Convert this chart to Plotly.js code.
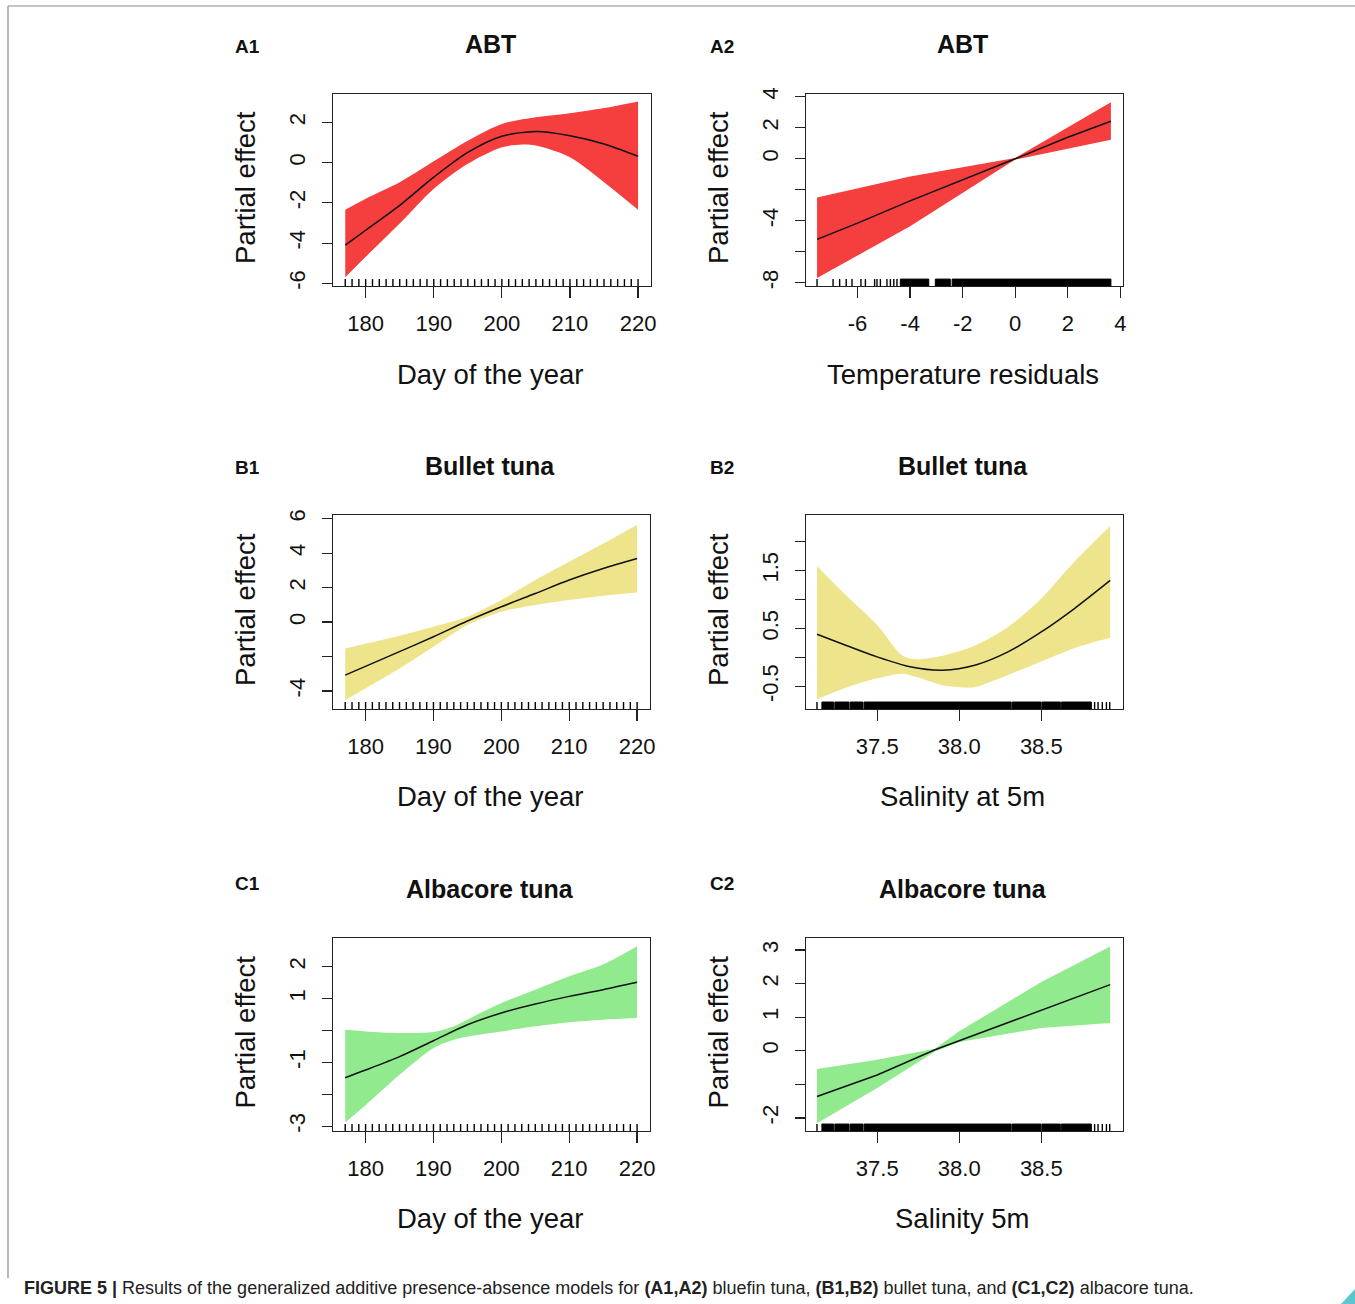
<!DOCTYPE html>
<html><head><meta charset="utf-8">
<script src="https://cdn.plot.ly/plotly-3.0.1.min.js"></script>
<style>html,body{margin:0;padding:0;background:#fff}#chart{width:1355px;height:1304px}</style>
</head><body><div id="chart"></div>
<script>
// ---------------- DATA ----------------
const titles = ['ABT','ABT','Bullet tuna','Bullet tuna','Albacore tuna','Albacore tuna'];
const panelLabels = ['A1','A2','B1','B2','C1','C2'];
const xTitles = ['Day of the year','Temperature residuals','Day of the year','Salinity at 5m','Day of the year','Salinity 5m'];
const yTitle = 'Partial effect';

// A1: ABT ~ day of year
const a1FitX = [177,180,185,190,195,200,205,210,215,220];
const a1FitY = [-4.10,-3.36,-2.12,-0.72,0.51,1.31,1.55,1.34,0.93,0.32];
const a1UpX  = [177,180,185,190,195,200,205,210,215,220];
const a1UpY  = [-2.34,-1.79,-0.97,0.07,1.09,1.92,2.25,2.45,2.71,3.04];
const a1LoX  = [177,180,185,190,195,200,203,205,210,215,220];
const a1LoY  = [-5.70,-4.68,-3.03,-1.30,-0.06,0.76,0.90,0.85,0.27,-0.97,-2.34];

// A2: ABT ~ temperature residuals
const a2FitX = [-7.54,-6,-4,-2,0,2,3.64];
const a2FitY = [-5.20,-4.15,-2.72,-1.38,0.00,1.39,2.42];
const a2UpX  = [-7.54,-4,0,3.64];
const a2UpY  = [-2.50,-1.14,0.05,3.64];
const a2LoX  = [-7.54,-4,0,3.64];
const a2LoY  = [-7.70,-4.35,-0.05,1.22];

// B1: bullet tuna ~ day of year
const b1FitX = [177,185,190,195,200,205,210,215,220];
const b1FitY = [-3.08,-1.72,-0.85,0.06,0.89,1.66,2.44,3.11,3.69];
const b1UpX  = [177,185,190,195,200,205,210,215,220];
const b1UpY  = [-1.53,-0.79,-0.27,0.31,1.28,2.44,3.50,4.56,5.66];
const b1LoX  = [177,185,190,195,200,205,210,215,220];
const b1LoY  = [-4.52,-2.69,-1.43,-0.17,0.60,0.99,1.28,1.53,1.72];

// B2: bullet tuna ~ salinity at 5m
const b2FitX = [37.133,37.3,37.5,37.7,37.9,38.1,38.3,38.5,38.7,38.92];
const b2FitY = [0.40,0.22,0.01,-0.16,-0.22,-0.13,0.10,0.44,0.84,1.33];
const b2UpX  = [37.133,37.3,37.5,37.65,37.73,37.9,38.1,38.3,38.5,38.7,38.92];
const b2UpY  = [1.58,1.10,0.56,0.04,-0.03,0.03,0.21,0.53,1.02,1.65,2.27];
const b2LoX  = [37.133,37.3,37.5,37.65,37.73,37.9,38.035,38.1,38.3,38.5,38.7,38.92];
const b2LoY  = [-0.72,-0.53,-0.36,-0.28,-0.33,-0.48,-0.52,-0.51,-0.30,-0.07,0.16,0.34];

// C1: albacore ~ day of year
const c1FitX = [177,180,185,190,195,200,205,210,215,220];
const c1FitY = [-1.48,-1.24,-0.82,-0.32,0.18,0.55,0.83,1.07,1.28,1.51];
const c1UpX  = [177,180,185,190,193,195,200,205,210,215,220];
const c1UpY  = [0.02,-0.03,-0.08,-0.05,0.13,0.34,0.86,1.28,1.70,2.07,2.64];
const c1LoX  = [177,180,185,190,193,195,200,205,210,215,220];
const c1LoY  = [-2.88,-2.34,-1.39,-0.55,-0.29,-0.19,-0.03,0.13,0.26,0.34,0.39];

// C2: albacore ~ salinity 5m
const c2FitX = [37.133,37.5,37.852,38.0,38.5,38.92];
const c2FitY = [-1.36,-0.72,0.03,0.30,1.22,1.97];
const c2UpX  = [37.133,37.5,37.852,38.0,38.5,38.92];
const c2UpY  = [-0.54,-0.27,0.06,0.58,2.05,3.11];
const c2LoX  = [37.133,37.5,37.852,38.0,38.5,38.92];
const c2LoY  = [-2.16,-1.11,-0.02,0.26,0.68,0.83];

// Rug (observations)
const rugDays = [177,178,179,180,181,182,183,184,185,186,187,188,189,190,191,192,193,194,195,196,197,198,
                 199,200,201,202,203,204,205,206,207,208,209,210,211,212,213,214,215,216,217,218,219,220];
const rugTempSparse = [-7.54,-6.93,-6.68,-6.43,-6.21,-5.87,-5.70,-5.35,-5.26,-5.13,-4.88,-4.75,-4.62,-4.50];
const rugTempDense  = [[-4.37,-3.29],[-3.04,-2.47],[-2.40,3.64]];
const rugSalSparse  = [37.133,38.825,38.846,38.872,38.897,38.917];
const rugSalDense   = [[37.163,37.235],[37.242,37.328],[37.335,37.413],[37.420,38.316],[38.322,38.498],[38.504,38.616],[38.622,38.805]];

// Axis ranges & ticks
const xRanges = [[175.2,221.9],[-7.96,4.10],[175.2,221.9],[37.066,38.998],[175.2,221.9],[37.066,38.998]];
const yRanges = [[-6.13,3.41],[-8.21,4.18],[-5.05,6.22],[-0.89,2.46],[-3.15,2.90],[-2.39,3.36]];
const dayTicks = [180,190,200,210,220];
const dayTickText = ['180','190','200','210','220'];
const tempTicks = [-6,-4,-2,0,2,4];
const tempTickText = ['-6','-4','-2','0','2','4'];
const salTicks = [37.5,38.0,38.5];
const salTickText = ['37.5','38.0','38.5'];
const yTickVals = [[-6,-4,-2,0,2],[-8,-6,-4,-2,0,2,4],[-4,-2,0,2,4,6],[-0.5,0,0.5,1,1.5,2],[-3,-2,-1,0,1,2],[-2,-1,0,1,2,3]];
const yTickText = [['-6','-4','-2','0','2'],['-8','','-4','','0','2','4'],['-4','','0','2','4','6'],
                   ['-0.5','','0.5','','1.5',''],['-3','','-1','','1','2'],['-2','','0','1','2','3']];

// ---------------- LAYOUT HELPERS ----------------
const W = 1355, H = 1304;
const fx = p => p / W, fy = p => 1 - p / H;
const boxes = [[333,94,651,286],[806,94,1123,286],[333,515,650,709],[806,515,1123,709],[333,938,650,1131],[806,938,1123,1131]];
const colors = ['#f53e3e','#f53e3e','#ede48c','#ede48c','#92ea8e','#92ea8e'];
const fits = [[a1FitX,a1FitY],[a2FitX,a2FitY],[b1FitX,b1FitY],[b2FitX,b2FitY],[c1FitX,c1FitY],[c2FitX,c2FitY]];
const ups  = [[a1UpX,a1UpY],[a2UpX,a2UpY],[b1UpX,b1UpY],[b2UpX,b2UpY],[c1UpX,c1UpY],[c2UpX,c2UpY]];
const los  = [[a1LoX,a1LoY],[a2LoX,a2LoY],[b1LoX,b1LoY],[b2LoX,b2LoY],[c1LoX,c1LoY],[c2LoX,c2LoY]];
const rugs = [[rugDays,[]],[rugTempSparse,rugTempDense],[rugDays,[]],[rugSalSparse,rugSalDense],[rugDays,[]],[rugSalSparse,rugSalDense]];
const xTickSets = [[dayTicks,dayTickText],[tempTicks,tempTickText],[dayTicks,dayTickText],[salTicks,salTickText],[dayTicks,dayTickText],[salTicks,salTickText]];
const smooth = ['spline','linear','spline','spline','spline','linear'];

const FONT = 'Liberation Sans, Arial, Helvetica, sans-serif';
const traces = [];
const layout = {
  width: W, height: H, margin: {l:0,r:0,t:0,b:0},
  paper_bgcolor: '#fff', plot_bgcolor: 'rgba(0,0,0,0)', showlegend: false,
  font: {family: FONT, color: '#111'},
  annotations: [], shapes: []
};
const RUG_H = 0.036;

for (let i = 0; i < 6; i++) {
  const n = i + 1, rn = i + 7;
  const xa = 'x' + n, ya = 'y' + n, ra = 'y' + rn;
  const [l,t,r,b] = boxes[i];
  layout['xaxis' + n] = {
    domain: [fx(l), fx(r)], anchor: ya, range: xRanges[i],
    tickvals: xTickSets[i][0], ticktext: xTickSets[i][1],
    ticks: 'outside', ticklen: 11, tickwidth: 1.2, tickcolor: '#222',
    showline: true, mirror: true, linecolor: '#222', linewidth: 1.3,
    showgrid: false, zeroline: false, ticklabelstandoff: 6,
    tickfont: {size: 22, family: FONT, color: '#111'}
  };
  layout['yaxis' + n] = {
    domain: [fy(b), fy(t)], anchor: xa, range: yRanges[i],
    tickvals: yTickVals[i], ticktext: yTickText[i], tickangle: -90,
    ticks: 'outside', ticklen: 10, tickwidth: 1.2, tickcolor: '#222',
    showline: true, mirror: true, linecolor: '#222', linewidth: 1.3,
    showgrid: false, zeroline: false, ticklabelstandoff: 8,
    tickfont: {size: 22, family: FONT, color: '#111'}
  };
  layout['yaxis' + rn] = {
    domain: [fy(b), fy(t)], anchor: xa, overlaying: ya, range: [0,1],
    visible: false, showgrid: false, zeroline: false, fixedrange: true
  };

  // confidence band: upper edge then lower edge filled to it
  traces.push({x: ups[i][0], y: ups[i][1], xaxis: xa, yaxis: ya, mode: 'lines',
    line: {width: 0, color: colors[i], shape: smooth[i], smoothing: 0.8}, hoverinfo: 'skip'});
  traces.push({x: los[i][0], y: los[i][1], xaxis: xa, yaxis: ya, mode: 'lines', fill: 'tonexty',
    fillcolor: colors[i], line: {width: 0, color: colors[i], shape: smooth[i], smoothing: 0.8}, hoverinfo: 'skip'});
  // fitted smooth
  traces.push({x: fits[i][0], y: fits[i][1], xaxis: xa, yaxis: ya, mode: 'lines',
    line: {color: '#111', width: 1.5, shape: smooth[i], smoothing: 0.8}});

  // rug: single ticks
  const rx = [], ry = [];
  rugs[i][0].forEach(v => { rx.push(v, v, null); ry.push(0, RUG_H, null); });
  traces.push({x: rx, y: ry, xaxis: xa, yaxis: ra, mode: 'lines',
    line: {color: '#000', width: 1.4}, hoverinfo: 'skip'});
  // rug: dense runs of observations
  rugs[i][1].forEach(seg => {
    traces.push({x: [seg[0],seg[0],seg[1],seg[1],seg[0]], y: [0,RUG_H,RUG_H,0,0],
      xaxis: xa, yaxis: ra, mode: 'lines', fill: 'toself', fillcolor: '#000',
      line: {color: '#000', width: 1}, hoverinfo: 'skip'});
  });

  const cx = (l + r) / 2, cy = (t + b) / 2;
  const titleY = [44,44,466,466,889,889][i];
  const labelY = [47,47,468,468,883,883][i];
  const xtY = [374,374,796,796,1218,1218][i];
  layout.annotations.push(
    {text: '<b>' + titles[i] + '</b>', x: fx(cx - 2), y: fy(titleY), xref: 'paper', yref: 'paper',
     showarrow: false, xanchor: 'center', yanchor: 'middle', font: {size: 25, family: FONT, color: '#111'}},
    {text: '<b>' + panelLabels[i] + '</b>', x: fx(i % 2 === 0 ? 247 : 722), y: fy(labelY), xref: 'paper', yref: 'paper',
     showarrow: false, xanchor: 'center', yanchor: 'middle', font: {size: 19, family: FONT, color: '#111'}},
    {text: xTitles[i], x: fx(cx - 2), y: fy(xtY), xref: 'paper', yref: 'paper',
     showarrow: false, xanchor: 'center', yanchor: 'middle', font: {size: 27.5, family: FONT, color: '#111'}},
    {text: yTitle, x: fx(l - 88), y: fy(cy - 2), xref: 'paper', yref: 'paper', textangle: -90,
     showarrow: false, xanchor: 'center', yanchor: 'middle', font: {size: 27.5, family: FONT, color: '#111'}}
  );
}

// caption
layout.annotations.push({
  text: '<b>FIGURE 5 |</b> Results of the generalized additive presence-absence models for <b>(A1,A2)</b> bluefin tuna, <b>(B1,B2)</b> bullet tuna, and <b>(C1,C2)</b> albacore tuna.',
  x: fx(22), y: fy(1288), xref: 'paper', yref: 'paper', showarrow: false,
  xanchor: 'left', yanchor: 'middle', font: {size: 18, family: 'Liberation Sans Narrow, Liberation Sans, Arial, sans-serif', color: '#222'}
});
// frame lines and corner mark
layout.shapes.push(
  {type: 'line', xref: 'paper', yref: 'paper', x0: fx(8), x1: 1, y0: fy(6), y1: fy(6), line: {color: '#8a8a8a', width: 1.2}},
  {type: 'line', xref: 'paper', yref: 'paper', x0: fx(8), x1: fx(8), y0: fy(6), y1: fy(1278), line: {color: '#8a8a8a', width: 1.2}},
  {type: 'path', xref: 'paper', yref: 'paper',
   path: 'M ' + fx(1341) + ' ' + fy(1304) + ' L ' + fx(1355) + ' ' + fy(1289) + ' L ' + fx(1355) + ' ' + fy(1304) + ' Z',
   fillcolor: '#5cc6cf', line: {width: 0}}
);

Plotly.newPlot('chart', traces, layout, {staticPlot: true, displayModeBar: false});
</script>
</body></html>
